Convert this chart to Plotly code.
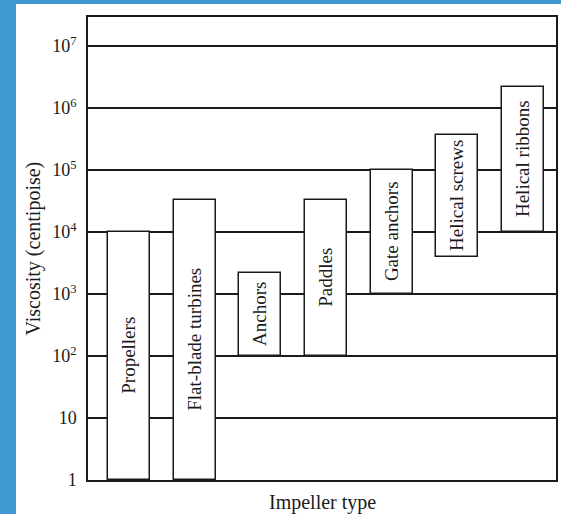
import plotly.graph_objects as go

# Data
impellers = ["Propellers", "Flat-blade turbines", "Anchors", "Paddles",
             "Gate anchors", "Helical screws", "Helical ribbons"]
visc_low = [1, 1, 100, 100, 1000, 4000, 10000]
visc_high = [10000, 33000, 2200, 33000, 100000, 370000, 2200000]
tick_vals = [1, 10, 100, 1000, 1e4, 1e5, 1e6, 1e7]
tick_text = ["1", "10", "10<sup>2</sup>", "10<sup>3</sup>", "10<sup>4</sup>",
             "10<sup>5</sup>", "10<sup>6</sup>", "10<sup>7</sup>"]
x_title = "Impeller type"
y_title = "Viscosity (centipoise)"

W, H = 561, 514
ml, mr, mt, mb = 88, 5, 17, 34
pw, ph = W - ml - mr, H - mt - mb
FONT = "Liberation Serif, Times New Roman, serif"
INK = "#1a1a1a"

fig = go.Figure()
fig.add_trace(go.Bar(
    x=list(range(len(impellers))),
    y=[h - l for h, l in zip(visc_high, visc_low)],
    base=visc_low,
    width=0.64,
    marker=dict(color="white", line=dict(color=INK, width=1.5)),
    text=impellers,
    textposition="inside",
    insidetextanchor="middle",
    textangle=-90,
    textfont=dict(family=FONT, size=19, color=INK),
    hoverinfo="skip",
))

# blue screenshot border (decoration)
blue = "#4199d2"
fig.add_shape(type="rect", xref="paper", yref="paper", layer="below",
              x0=-ml / pw, x1=(16 - ml) / pw, y0=-mb / ph, y1=1 + mt / ph,
              fillcolor=blue, line_width=0)
fig.add_shape(type="rect", xref="paper", yref="paper", layer="below",
              x0=-ml / pw, x1=1 + mr / pw, y0=1 + (mt - 4) / ph, y1=1 + mt / ph,
              fillcolor=blue, line_width=0)

# axis titles
fig.add_annotation(text=x_title, xref="paper", yref="paper", x=0.5, y=0,
                   yshift=-22, yanchor="middle", showarrow=False,
                   font=dict(family=FONT, size=20, color=INK))
fig.add_annotation(text=y_title, xref="paper", yref="paper", x=0, y=0.5,
                   xshift=-55, xanchor="center", yanchor="middle",
                   textangle=-90, showarrow=False,
                   font=dict(family=FONT, size=20, color=INK))

fig.update_layout(
    width=W, height=H,
    margin=dict(l=ml, r=mr, t=mt, b=mb, autoexpand=False),
    paper_bgcolor="white", plot_bgcolor="white",
    showlegend=False,
    font=dict(family=FONT, size=18, color=INK),
    bargap=0,
    hovermode=False,
)
fig.update_xaxes(
    range=[-0.624, 6.5], showticklabels=False, showgrid=False, zeroline=False,
    showline=True, mirror=True, linecolor=INK, linewidth=1.5, ticks="",
    automargin=False,
)
fig.update_yaxes(
    type="log", range=[0, 7.47],
    tickvals=tick_vals, ticktext=tick_text, ticks="", ticklabelstandoff=6,
    showgrid=True, gridcolor=INK, gridwidth=1.5,
    showline=True, mirror=True, linecolor=INK, linewidth=1.5,
    zeroline=False, automargin=False,
    tickfont=dict(size=18),
)

fig.write_html("out.html",
               config={"displayModeBar": False},
               post_script="document.body.style.margin='0';"
                           "document.body.style.overflow='hidden';")
